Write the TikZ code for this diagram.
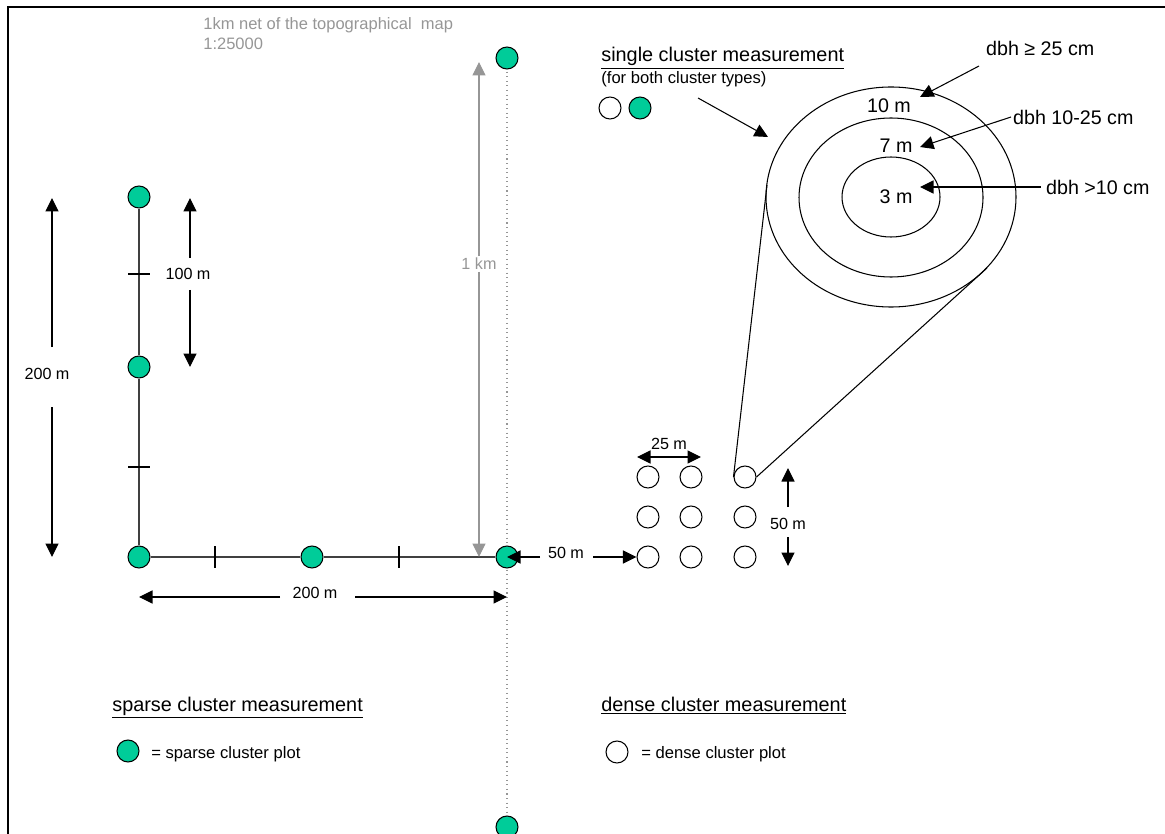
\documentclass[tikz,border=0pt]{standalone}
\usepackage{fontspec}
\setmainfont{Liberation Sans}
\usetikzlibrary{positioning,arrows.meta}
\definecolor{plotgreen}{HTML}{00CC99}
\definecolor{netgray}{HTML}{969696}
\tikzset{
  spl/.style={circle,draw=black,fill=plotgreen,minimum size=0.44cm,inner sep=0pt,line width=0.6pt},
  dpl/.style={circle,draw=black,fill=white,minimum size=0.44cm,inner sep=0pt,line width=0.6pt},
  ring/.style={line width=0.6pt},
  arm/.style={line width=0.7pt,black!75},
  dimarr/.style={-{Triangle[length=2.7mm,width=2.6mm]},line width=0.6pt},
  netarr/.style={dimarr,netgray},
  lbl/.style={font=\fontsize{9.2}{11}\selectfont,inner sep=1pt},
  rlbl/.style={font=\fontsize{11.2}{13}\selectfont,inner sep=1pt},
  head/.style={font=\fontsize{11.3}{13}\selectfont,anchor=base west,inner sep=0pt},
  small/.style={font=\fontsize{9.45}{11}\selectfont,anchor=west,inner sep=0pt},
}
\begin{document}
\begin{tikzpicture}[x=0.02cm,y=-0.02cm]
  \useasboundingbox (0,0) rectangle (1165,834);
  % frame, open on the right
  \begin{scope}
    \clip (0,0) rectangle (1165,834);
    \draw[line width=1.1pt] (8,840) -- (8,7) -- (1170,7);
    % 1 km net line
    \coordinate (nettop) at (507,58);
    \coordinate (netbot) at (507,827);
    \draw[dotted,netgray,line width=0.6pt] (nettop) -- (netbot);
    \node[spl] (sb) at (netbot) {};
  \end{scope}
  % sparse cluster
  \node[spl] (st) at (nettop) {};
  \node[spl] (s1) at (139,197) {};
  \node[spl] (s2) at (139,367) {};
  \node[spl] (s3) at (139,557) {};
  \node[spl] (s4) at (312,557) {};
  \node[spl] (s5) at (507,557) {};
  \draw[arm] (s1) -- (s2);
  \draw[arm] (s2) -- (s3);
  \draw[arm] (s3) -- (s4);
  \draw[arm] (s4) -- (s5);
  \foreach \y in {274,467}{
    \draw[line width=0.6pt] (128,\y) -- (150,\y);
  }
  \foreach \x in {215,399}{
    \draw[line width=0.6pt] (\x,546) -- (\x,568);
  }
  % dense cluster
  \foreach \i/\x in {1/648,2/691,3/745}{
    \foreach \j/\y in {1/477,2/517,3/557}{
      \node[dpl] (d\i\j) at (\x,\y) {};
    }
  }
  % single cluster rings
  \draw[ring] (891,197) ellipse (125 and 110);
  \draw[ring] (891,197.5) ellipse (92 and 79.5);
  \draw[ring] (891,197) ellipse (49 and 40);
  \coordinate (coneL) at (767,185);
  \coordinate (coneR) at (987,268);
  \draw[ring] (d31.west) -- (coneL);
  \draw[ring] (d31.east) -- (coneR);
  \node[rlbl] (r10) at (889,106) {10 m};
  \node[rlbl] (r7) at (896,146) {7 m};
  \node[rlbl] (r3) at (896,197) {3 m};
  % dbh labels
  \node[rlbl,anchor=west] (dbhA) at (984,48) {dbh ≥ 25 cm};
  \node[rlbl,anchor=west] (dbhB) at (1011,117) {dbh 10-25 cm};
  \node[rlbl,anchor=west] (dbhC) at (1044,187) {dbh >10 cm};
  \coordinate (tipA) at (920,97);
  \coordinate (tipB) at (920,147);
  \coordinate (tipC) at (920,187);
  \coordinate (startA) at (979,66);
  \draw[dimarr] (startA) -- (tipA);
  \draw[dimarr] (dbhB.west) -- (tipB);
  \draw[dimarr,shorten <=2pt] (dbhC.west) -- (tipC);
  % left 200 m
  \node[lbl] (v200) at (47,374) {200 m};
  \coordinate (v200a) at (52,198);
  \coordinate (v200b) at (52,557);
  \coordinate (v200c) at (52,347);
  \coordinate (v200d) at (52,407);
  \draw[dimarr] (v200c) -- (v200a);
  \draw[dimarr] (v200d) -- (v200b);
  % 100 m
  \node[lbl] (v100) at (188,274) {100 m};
  \coordinate (v100a) at (190,198);
  \coordinate (v100b) at (190,367);
  \coordinate (v100c) at (190,258);
  \coordinate (v100d) at (190,290);
  \draw[dimarr] (v100c) -- (v100a);
  \draw[dimarr] (v100d) -- (v100b);
  % bottom 200 m
  \node[lbl] (h200) at (315,593) {200 m};
  \coordinate (h200a) at (139,597);
  \coordinate (h200b) at (507,597);
  \coordinate (h200c) at (280,597);
  \coordinate (h200d) at (355,597);
  \draw[dimarr] (h200c) -- (h200a);
  \draw[dimarr] (h200d) -- (h200b);
  % 1 km
  \node[lbl,text=netgray] (km) at (479,264) {1 km};
  \coordinate (kma) at (479,62);
  \coordinate (kmb) at (479,557);
  \draw[netarr] (km) -- (kma);
  \draw[netarr] (km) -- (kmb);
  % distance to dense cluster
  \node[lbl] (d50) at (566,553) {50 m};
  \coordinate (d50c) at (540,557);
  \coordinate (d50d) at (593,557);
  \draw[dimarr] (d50c) -- (s5.center);
  \draw[dimarr] (d50d) -- (d13);
  % 25 m
  \node[lbl] (d25) at (669,444) {25 m};
  \coordinate (d25a) at (637,457);
  \coordinate (d25b) at (701,457);
  \draw[{Triangle[length=2.7mm,width=2.6mm]}-{Triangle[length=2.7mm,width=2.6mm]},line width=0.6pt] (d25a) -- (d25b);
  % 50 m
  \node[lbl] (v50) at (788,524) {50 m};
  \coordinate (v50a) at (788,468);
  \coordinate (v50b) at (788,566);
  \coordinate (v50c) at (788,507);
  \coordinate (v50d) at (788,537);
  \draw[dimarr] (v50c) -- (v50a);
  \draw[dimarr] (v50d) -- (v50b);
  % headings
  \node[small,text=netgray,align=left,anchor=north west,font=\fontsize{9.4}{11.3}\selectfont] (net) at (203,17) {1km net of the topographical\ \ map\\1:25000};
  \node[head] (hsingle) at (601,62) {\underline{single cluster measurement}};
  \node[small] (hboth) at (601,79) {(for both cluster types)};
  \node[dpl] (ld) at (610,108) {};
  \node[spl] (ls) at (640,108) {};
  \coordinate (singlea) at (698,98);
  \coordinate (singleb) at (768,137);
  \draw[dimarr] (singlea) -- (singleb);
  \node[head] (hsparse) at (112,711) {\underline{sparse cluster measurement}};
  \node[head] (hdense) at (601,711) {\underline{dense cluster measurement}};
  \node[spl] (lgs) at (128,751) {};
  \node[small] (tgs) at (151,754) {= sparse cluster plot};
  \node[dpl] (lgd) at (617,752) {};
  \node[small] (tgd) at (641,754) {= dense cluster plot};
\end{tikzpicture}
\end{document}
